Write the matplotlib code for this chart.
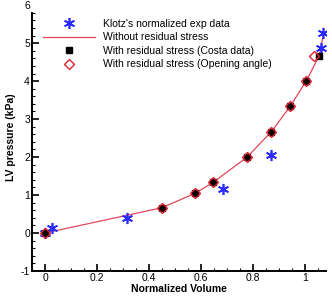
import matplotlib
matplotlib.use("Agg")
import matplotlib.pyplot as plt

# data
klotz_vol = [0.0, 0.027, 0.315, 0.685, 0.87, 1.06, 1.07]
klotz_p = [0.0, 0.12, 0.40, 1.16, 2.05, 4.88, 5.27]

line_vol = [0.0, 0.45, 0.578, 0.646, 0.777, 0.87, 0.942, 1.004, 1.054, 1.072]
line_p = [0.0, 0.667, 1.05, 1.333, 2.0, 2.667, 3.333, 4.0, 4.667, 5.3]

costa_vol = [0.0, 0.45, 0.578, 0.646, 0.777, 0.87, 0.942, 1.004, 1.054]
costa_p = [0.0, 0.667, 1.05, 1.333, 2.0, 2.667, 3.333, 4.0, 4.667]

angle_vol = [0.0, 0.45, 0.578, 0.646, 0.777, 0.87, 0.942, 1.004, 1.035]
angle_p = [0.0, 0.667, 1.05, 1.333, 2.0, 2.667, 3.333, 4.0, 4.667]

x_ticks = [0, 0.2, 0.4, 0.6, 0.8, 1]
x_labels = ["0", "0.2", "0.4", "0.6", "0.8", "1"]
y_ticks = [-1, 0, 1, 2, 3, 4, 5, 6]

plt.rcParams['font.family'] = ['Liberation Sans', 'DejaVu Sans']

fig = plt.figure(figsize=(3.32, 2.96), dpi=100)
# 38 px per kPa, y from -1 to 6.03
ax = fig.add_axes([32 / 332, 25 / 296, 294 / 332, 267 / 296])

ax.plot(klotz_vol, klotz_p, linestyle='none', marker=(6, 2, 0), markersize=8,
        mew=1.2, color='#2a2aff', label="Klotz's normalized exp data", zorder=3)
ax.plot(line_vol, line_p, color='#e0455a', lw=0.9,
        label="Without residual stress", zorder=2)
ax.plot(costa_vol, costa_p, linestyle='none', marker='s', markersize=4.5,
        color='black', label="With residual stress (Costa data)", zorder=4)
ax.plot(angle_vol, angle_p, linestyle='none', marker='D', markersize=5,
        mfc='none', mec='#e0202a', mew=1.0,
        label="With residual stress (Opening angle)", zorder=5)

ax.set_xlim(-0.05, 1.08)
ax.set_ylim(-1, 6.03)
ax.set_xticks(x_ticks)
ax.set_xticklabels(x_labels)
ax.set_yticks(y_ticks)
ax.set_yticklabels([str(v) for v in y_ticks])
ax.set_xticks([i * 0.05 for i in range(-1, 22)], minor=True)
ax.set_yticks([-1 + i * 0.2 for i in range(35)], minor=True)

# tecplot style axes
ax.spines['top'].set_visible(False)
ax.spines['right'].set_visible(False)
ax.spines['left'].set_linewidth(1.4)
ax.spines['bottom'].set_linewidth(1.4)
ax.spines['left'].set_bounds(-1, 5.8)
ax.tick_params(which='major', direction='in', length=5, width=1.2, labelsize=7.5, pad=1.5)
ax.tick_params(which='minor', direction='in', length=2.5, width=0.8)
# no tick line at 6, only the label
ax.yaxis.get_major_ticks()[7].tick1line.set_visible(False)

ax.set_xlabel("Normalized Volume", fontsize=7.5, fontweight='bold', labelpad=1)
ax.set_ylabel("LV pressure (kPa)", fontsize=7.5, fontweight='bold', labelpad=3)

ax.legend(loc='upper left', bbox_to_anchor=(43 / 332, 277 / 296),
          bbox_transform=fig.transFigure, frameon=False, fontsize=7.5,
          borderpad=0, borderaxespad=0, handlelength=5.0, handletextpad=0.8,
          labelspacing=0.33)

fig.savefig("out.png", dpi=100)
